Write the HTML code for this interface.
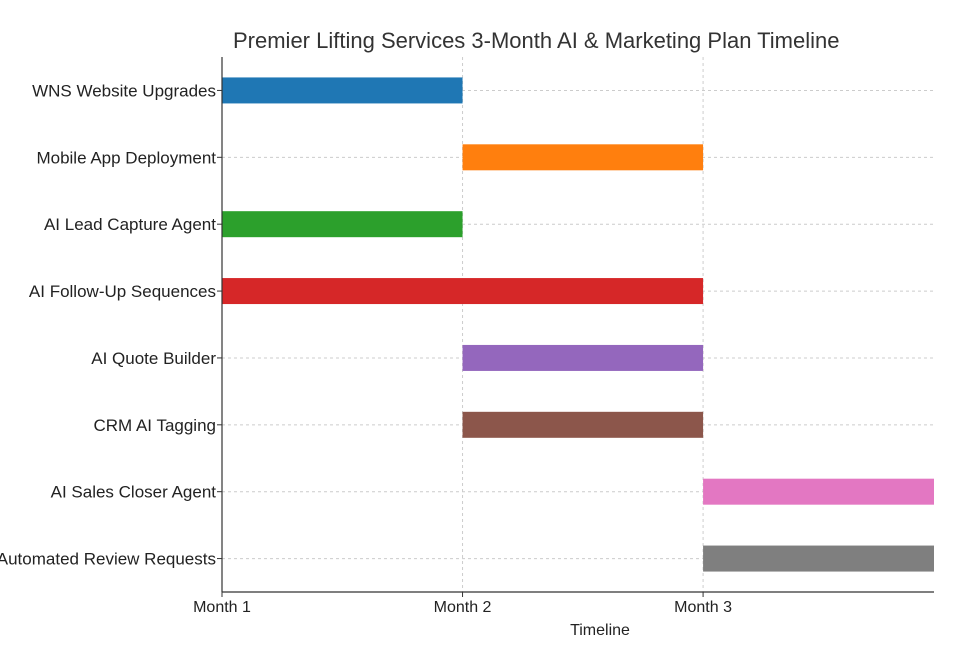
<!DOCTYPE html>
<html><head><meta charset="utf-8"><style>
body{margin:0;background:#fff;overflow:hidden}
svg{font-family:"Liberation Sans","DejaVu Sans",sans-serif}
</style></head><body>
<svg id="c" width="960" height="640"></svg>
<script>
const tasks=["WNS Website Upgrades","Mobile App Deployment","AI Lead Capture Agent","AI Follow-Up Sequences","AI Quote Builder","CRM AI Tagging","AI Sales Closer Agent","Automated Review Requests"];
const starts=[0,1,0,0,1,1,2,2];
const durations=[1,1,1,2,1,1,1,1];
const colors=["#1f77b4","#ff7f0e","#2ca02c","#d62728","#9467bd","#8c564b","#e377c2","#7f7f7f"];
const tickLabels=["Month 1","Month 2","Month 3"];
const ticks=[0,1,2];
const NS="http://www.w3.org/2000/svg";
const svg=document.getElementById('c');
const L=222,R=934,T=57,B=592,xmax=2.96;
const x=v=>L+(v/xmax)*(R-L);
const rowH=(B-T)/tasks.length;
const y=i=>T+rowH*(i+0.5);
function el(t,a,txt){const e=document.createElementNS(NS,t);for(const k in a)e.setAttribute(k,a[k]);if(txt!=null)e.textContent=txt;svg.appendChild(e);return e;}
let t=el('text',{x:233,y:48,'font-size':22,fill:'#333'},"Premier Lifting Services 3-Month AI & Marketing Plan Timeline");

ticks.forEach((v,i)=>{
 let g=el('line',{x1:x(v),x2:x(v),y1:T,y2:B,stroke:'#ccc','stroke-dasharray':'3,3'});
 
 let tk=el('line',{x1:x(v),x2:x(v),y1:B,y2:B+5,stroke:'#333'});
 
 let lb=el('text',{x:x(v),y:B+20,'font-size':16,fill:'#222','text-anchor':'middle'},tickLabels[i]);
 
});
tasks.forEach((n,i)=>{
 let g=el('line',{x1:L,x2:R,y1:y(i),y2:y(i),stroke:'#ccc','stroke-dasharray':'3,3'});
 
 let tk=el('line',{x1:L-5,x2:L,y1:y(i),y2:y(i),stroke:'#333'});
 
 let lb=el('text',{x:L-6,y:y(i)+6,'font-size':17,fill:'#222','text-anchor':'end'},n);
 
});
tasks.forEach((n,i)=>{
 const x0=x(starts[i]),x1=Math.min(x(starts[i]+durations[i]),R);
 let b=el('rect',{x:x0,y:y(i)-13,width:x1-x0,height:26,fill:colors[i]});
 
});
let a1=el('line',{x1:L,x2:L,y1:T,y2:B,stroke:'#333','stroke-width':1.2});

let a2=el('line',{x1:L,x2:R,y1:B,y2:B,stroke:'#333','stroke-width':1.2});

let xt=el('text',{x:(L+R)/2+22,y:635,'font-size':16,fill:'#222','text-anchor':'middle'},"Timeline");

</script>
</body></html>
